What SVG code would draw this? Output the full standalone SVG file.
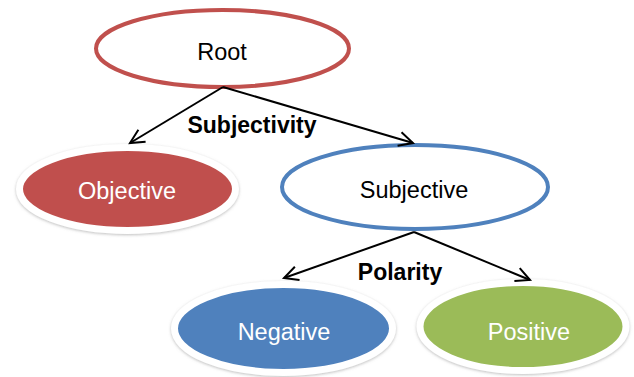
<svg xmlns="http://www.w3.org/2000/svg" width="634" height="377" viewBox="0 0 634 377">
<defs>
<style>
text{font-family:"Liberation Sans",Arial,sans-serif;font-size:23.5px;text-anchor:middle}
.lbl{font-weight:bold;font-size:23px;fill:#000}
.dark{fill:#000}
.light{fill:#fff}
.outl{fill:#fff;stroke-width:4}
.filled{stroke:#fff;stroke-width:7;filter:url(#sh)}
.conn{stroke:#000;stroke-width:2;fill:none;marker-end:url(#arr)}
</style>
<filter id="sh" x="-10%" y="-15%" width="120%" height="130%">
<feDropShadow dx="0" dy="1" stdDeviation="1.5" flood-color="#888" flood-opacity="0.55"/>
</filter>
<marker id="arr" markerUnits="userSpaceOnUse" markerWidth="20" markerHeight="20" viewBox="-16 -10 20 20" refX="0" refY="0" orient="auto">
<path d="M-14,-7 L0,0 L-14,7" fill="none" stroke="#000" stroke-width="2"/>
</marker>
</defs>
<g id="root">
<ellipse class="outl" cx="222.5" cy="48.5" rx="126.5" ry="38.5" stroke="#C0504D"/>
<text class="dark" x="222" y="60">Root</text>
</g>
<g id="objective">
<ellipse class="filled" cx="127.5" cy="189" rx="108" ry="41.5" fill="#C0504D"/>
<text class="light" x="127" y="199">Objective</text>
</g>
<g id="subjective">
<ellipse class="outl" cx="415" cy="187" rx="133" ry="42" stroke="#4F81BD"/>
<text class="dark" x="414" y="198">Subjective</text>
</g>
<g id="negative">
<ellipse class="filled" cx="283.5" cy="328.5" rx="109" ry="44" fill="#4F81BD"/>
<text class="light" x="284" y="340">Negative</text>
</g>
<g id="positive">
<ellipse class="filled" cx="523" cy="326.5" rx="103" ry="44" fill="#9BBB59"/>
<text class="light" x="529" y="340">Positive</text>
</g>
<g id="connectors">
<line class="conn" x1="223" y1="87" x2="130" y2="143"/>
<line class="conn" x1="223" y1="87" x2="413" y2="143"/>
<line class="conn" x1="414" y1="232" x2="284" y2="278"/>
<line class="conn" x1="414" y1="232" x2="530" y2="280"/>
<text class="lbl" x="252" y="133">Subjectivity</text>
<text class="lbl" x="400" y="280">Polarity</text>
</g>
</svg>
